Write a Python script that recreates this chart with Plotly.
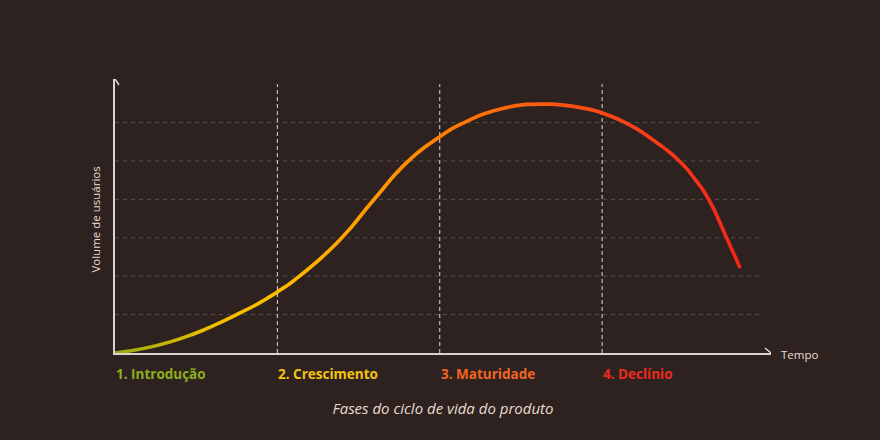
import math
import plotly.graph_objects as go

# ---- data ----
phase_labels = ["1. Introdução", "2. Crescimento", "3. Maturidade", "4. Declínio"]
phase_starts = [0, 1, 2, 3]
time = [0, 0.34, 0.74, 1.0, 1.13, 1.39, 1.59, 1.80, 2.0, 2.13, 2.37, 2.63, 2.89,
        3.0, 3.16, 3.32, 3.48, 3.58, 3.66, 3.77, 3.85]
volume = [0, 0.29, 0.98, 1.59, 1.98, 2.97, 3.97, 4.97, 5.63, 5.96, 6.35, 6.48, 6.37,
          6.25, 5.96, 5.53, 4.98, 4.48, 3.97, 2.97, 2.21]
grid_levels = [1, 2, 3, 4, 5, 6]

# ---- styles ----
BG = "#2e2221"
TXT = "#e8dccf"
AXIS = "#dcd4cc"
GRID = "#5a4c4a"
VLINE = "#dedad6"
label_colors = ["#8fae1c", "#f7c20e", "#f26522", "#ee2a20"]
curve_scale = [[0.0, "rgb(150,170,20)"], [0.155, "rgb(238,192,0)"], [0.26, "rgb(255,188,0)"],
               [0.52, "rgb(255,128,0)"], [0.70, "rgb(255,84,20)"], [1.0, "rgb(245,35,25)"]]
XMAX, YMAX = 4.04, 7.135
PW = 656.5            # plot width in px
PH = 274.0            # plot height in px
SX, SY = PW / XMAX, PH / YMAX
HALF = 1.8            # half stroke width, px

# stroke band around the curve (offset perpendicular in pixel space)
n = len(time)
upper_x, upper_y, lower_x, lower_y = [], [], [], []
for i in range(n):
    a = max(i - 1, 0)
    b = min(i + 1, n - 1)
    tx = (time[b] - time[a]) * SX
    ty = (volume[b] - volume[a]) * SY
    ln = math.hypot(tx, ty)
    nx, ny = -ty / ln, tx / ln
    upper_x.append(time[i] + nx * HALF / SX)
    upper_y.append(volume[i] + ny * HALF / SY)
    lower_x.append(time[i] - nx * HALF / SX)
    lower_y.append(volume[i] - ny * HALF / SY)

edge = dict(width=0.5, shape="spline", smoothing=1.3, simplify=False,
            color="rgba(0,0,0,0)")
fig = go.Figure()
fig.add_trace(go.Scatter(x=lower_x, y=lower_y, mode="lines", line=edge,
                         hoverinfo="skip", showlegend=False))
fig.add_trace(go.Scatter(x=upper_x, y=upper_y, mode="lines", line=edge,
                         fill="tonexty",
                         fillgradient=dict(type="horizontal", colorscale=curve_scale,
                                           start=0, stop=3.88),
                         hoverinfo="skip", showlegend=False))

shapes = []
for g in grid_levels:
    shapes.append(dict(type="line", xref="x", yref="y", x0=0, x1=3.99, y0=g, y1=g,
                       line=dict(color=GRID, width=1, dash="4px,4px"), layer="below"))
for p in phase_starts[1:]:
    shapes.append(dict(type="line", xref="x", yref="y", x0=p, x1=p, y0=0, y1=7.0,
                       line=dict(color=VLINE, width=1, dash="4px,3px"), layer="below"))
# axis arrow heads
shapes.append(dict(type="path", xref="x", yref="y", xsizemode="pixel", ysizemode="pixel",
                   xanchor=XMAX, yanchor=0, path="M-6,-5 L0,0 L-6,5",
                   line=dict(color=AXIS, width=1.5)))
shapes.append(dict(type="path", xref="x", yref="y", xsizemode="pixel", ysizemode="pixel",
                   xanchor=0, yanchor=YMAX, path="M-4,-6 L0,0 L4,-6",
                   line=dict(color=AXIS, width=1.5)))

annotations = []
for lab, p, c in zip(phase_labels, phase_starts, label_colors):
    annotations.append(dict(text="<b>%s</b>" % lab, x=p, xref="x", y=0, yref="y",
                            xanchor="left", yanchor="middle", yshift=-21, xshift=-1,
                            showarrow=False, font=dict(color=c, size=13.5)))
annotations.append(dict(text="Tempo", x=XMAX, xref="x", y=0, yref="y", xanchor="left",
                        yanchor="middle", xshift=8, yshift=-1, showarrow=False,
                        font=dict(color=TXT, size=11.5)))
annotations.append(dict(text="Volume de usuários", x=0, xref="paper", y=0.487, yref="paper",
                        xanchor="center", yanchor="middle", xshift=-19, textangle=-90,
                        showarrow=False, font=dict(color=TXT, size=11.5)))

fig.update_layout(
    width=880, height=440,
    paper_bgcolor=BG, plot_bgcolor=BG,
    margin=dict(l=115, r=880 - 115 - PW, t=79, b=440 - 79 - PH),
    font=dict(family="Open Sans, Noto Sans, sans-serif", color=TXT),
    title=dict(text="Fases do ciclo de vida do produto", x=0.5, xanchor="center",
               xref="paper", y=31 / 440, yref="container", yanchor="middle",
               font=dict(size=15, color=TXT, style="italic")),
    xaxis=dict(range=[0, XMAX], showgrid=False, zeroline=False, showticklabels=False,
               ticks="", showline=True, linecolor=AXIS, linewidth=1.5, fixedrange=True),
    yaxis=dict(range=[0, YMAX], showgrid=False, zeroline=False, showticklabels=False,
               ticks="", showline=True, linecolor=AXIS, linewidth=1.5, fixedrange=True),
    shapes=shapes, annotations=annotations,
)

fig.write_html("out.html", config={"displayModeBar": False},
               post_script="document.body.style.margin='0';"
               "document.body.style.background='" + BG + "';")
